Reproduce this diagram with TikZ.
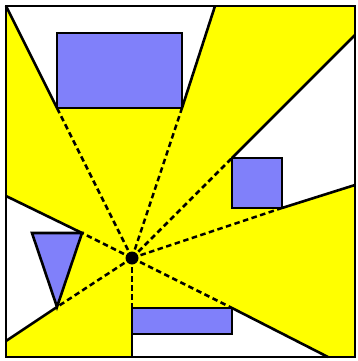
\documentclass[tikz,border=0pt]{standalone}
\definecolor{objblue}{RGB}{128,128,250}
\definecolor{lightyellow}{RGB}{255,255,0}
\begin{document}
\begin{tikzpicture}[x=1pt,y=-1pt,
  shadowedge/.style={draw=black,line width=2.6pt},
  ray/.style={draw=black,line width=2.5pt,dash pattern=on 5.5pt off 3.5pt},
  obj/.style={draw=black,line width=2.6pt,fill=objblue,line join=miter}]
\useasboundingbox (0,0) rectangle (357,361);
\fill[white] (0,0) rectangle (357,361);
% room
\coordinate (c1) at (6,6);
\coordinate (c2) at (355,6);
\coordinate (c3) at (355,357);
\coordinate (c4) at (6,357);
\fill[lightyellow] (c1) rectangle (c3);
% light
\coordinate (L) at (132,258);
% object vertices
\coordinate (r1a) at (57,33);  \coordinate (r1b) at (182,108);
\coordinate (t1bl) at (57,108); \coordinate (t1br) at (182,108);
\coordinate (sqtl) at (232,158); \coordinate (sqbr) at (282,208); \coordinate (sqtr) at (282,158);
\coordinate (tra) at (32,233); \coordinate (trb) at (82,233); \coordinate (trc) at (57,307);
\coordinate (bra) at (132,308); \coordinate (brb) at (232,308); \coordinate (brc) at (232,334);
% border hit points
\coordinate (p1) at (6,6);
\coordinate (p2) at (215,6);
\coordinate (p3) at (355,35);
\coordinate (p4) at (355,185);
\coordinate (p5) at (6,196);
\coordinate (p6) at (6,341);
\coordinate (p7) at (132,357);
\coordinate (p8) at (328,357);
% shadows
\fill[white] (t1bl) -- (p1) -- (p2) -- (t1br) -- cycle;
\fill[white] (sqtl) -- (p3) -- (p4) -- (sqbr) -- (sqtr) -- cycle;
\fill[white] (trb) -- (p5) -- (p6) -- (trc) -- cycle;
\fill[white] (bra) -- (p7) -- (p8) -- (brb) -- cycle;
% shadow edges
\draw[shadowedge] (t1bl) -- (p1);
\draw[shadowedge] (t1br) -- (p2);
\draw[shadowedge] (sqtl) -- (p3);
\draw[shadowedge] (sqbr) -- (p4);
\draw[shadowedge] (trb) -- (p5);
\draw[shadowedge] (trc) -- (p6);
\draw[black,line width=1.5pt] (bra) -- (p7);
\draw[shadowedge] (brb) -- (p8);
% rays
\foreach \v in {t1bl,t1br,sqtl,sqbr,trb,trc,bra,brb}
  \draw[ray] (L) -- (\v);
% objects
\draw[obj] (r1a) rectangle (r1b);
\draw[obj] (sqtl) rectangle (sqbr);
\draw[obj] (tra) -- (trb) -- (trc) -- cycle;
\draw[obj] (bra) rectangle (brc);
% light source
\fill[black] (L) circle (6.5);
% room border
\draw[black,line width=2pt] (c1) rectangle (c3);
\end{tikzpicture}
\end{document}
